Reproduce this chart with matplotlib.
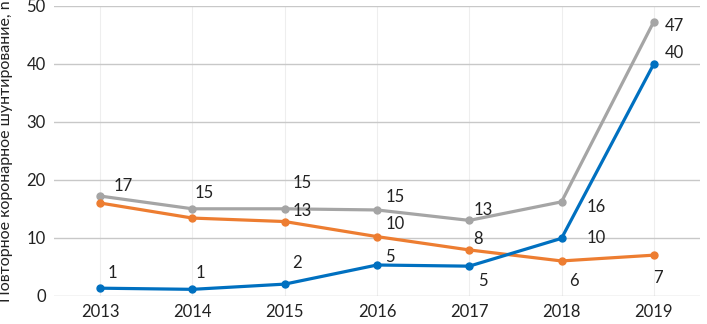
import matplotlib
matplotlib.use("Agg")
import matplotlib.pyplot as plt

years = ["2013", "2014", "2015", "2016", "2017", "2018", "2019"]
total = [17.2, 15.0, 15.0, 14.8, 13.0, 16.2, 47.3]
orange_vals = [16.0, 13.4, 12.8, 10.2, 7.9, 6.0, 7.0]
blue_vals = [1.3, 1.1, 2.0, 5.3, 5.1, 9.9, 40.0]

total_labels = ["17", "15", "15", "15", "13", "16", "47"]
orange_labels = ["", "", "13", "10", "8", "6", "7"]
blue_labels = ["1", "1", "2", "5", "5", "10", "40"]

# label offsets in pixels (dx, dy) relative to the point, dy up
total_off = [(23, 10), (12, 16), (18, 26), (18, 13), (14, 10), (35, -5), (21, -4)]
orange_off = [(0, 0), (0, 0), (18, 11), (18, 13), (9, 11), (12, -20), (4, -23)]
blue_off = [(12, 15), (8, 16), (12, 21), (13, 8), (14, -15), (35, 0), (21, 11)]

plt.rcParams['font.family'] = ["Lato", "DejaVu Sans"]

fig = plt.figure(figsize=(7.07, 3.24), dpi=100)
ax = fig.add_axes([0.0764, 0.0873, 0.9136, 0.8942])

x = list(range(len(years)))
series = [
    (total, "#A5A5A5", total_labels, total_off),
    (orange_vals, "#ED7D31", orange_labels, orange_off),
    (blue_vals, "#0070C0", blue_labels, blue_off),
]
for vals, col, labs, offs in series:
    ax.plot(x, vals, color=col, lw=2.3, marker="o", ms=5, zorder=3)
    for xi, v, lab, off in zip(x, vals, labs, offs):
        if lab:
            ax.annotate(lab, (xi, v), xytext=off, textcoords="offset pixels",
                        ha="center", va="center", fontsize=12, color="#222222")

ax.set_xlim(-0.5, 6.5)
ax.set_ylim(0, 50)
ax.set_yticks(range(0, 51, 10))
ax.set_xticks(x)
ax.set_xticklabels(years)
ax.grid(axis="y", color="#C8C8C8", lw=1)
for xi in x:
    ax.axvline(xi, color="#EEEEEE", lw=0.8, zorder=0)
ax.set_axisbelow(True)
for s in ax.spines.values():
    s.set_visible(False)
ax.tick_params(length=0, labelsize=12, colors="#222222", pad=6)
ax.set_ylabel("Повторное коронарное шунтирование, n", fontsize=11.5, color="#222222", labelpad=10)

fig.savefig("out.png", dpi=100)
